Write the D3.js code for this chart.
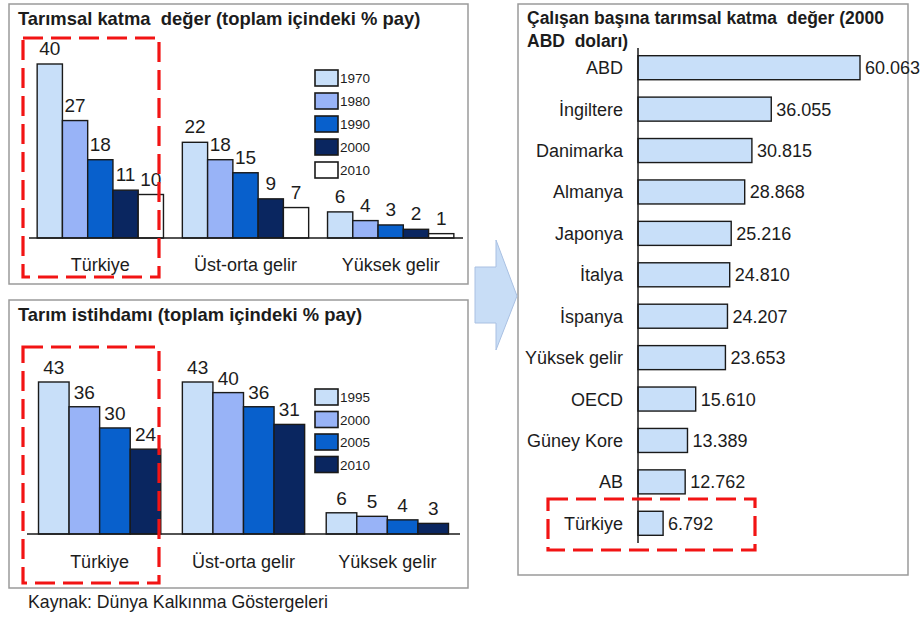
<!DOCTYPE html>
<html>
<head>
<meta charset="utf-8">
<script src="https://cdn.jsdelivr.net/npm/d3@7"></script>
<style>
  body { margin: 0; background: #fff; }
  svg { font-family: "Liberation Sans", Arial, sans-serif; }
  text { fill: #1c1c1c; white-space: pre; }
</style>
</head>
<body>
<svg id="chart" width="923" height="617"></svg>
<script>
// data
const groups = ["Türkiye", "Üst-orta gelir", "Yüksek gelir"];
const years1 = ["1970", "1980", "1990", "2000", "2010"];
const valueAdded = [[40, 27, 18, 11, 10], [22, 18, 15, 9, 7], [6, 4, 3, 2, 1]];
const years2 = ["1995", "2000", "2005", "2010"];
const employment = [[43, 36, 30, 24], [43, 40, 36, 31], [6, 5, 4, 3]];
const countries = ["ABD", "İngiltere", "Danimarka", "Almanya", "Japonya", "İtalya",
  "İspanya", "Yüksek gelir", "OECD", "Güney Kore", "AB", "Türkiye"];
const perWorker = [60063, 36055, 30815, 28868, 25216, 24810, 24207, 23653, 15610, 13389, 12762, 6792];

const colors1 = ["#c8dff9", "#98b3f7", "#0860cc", "#0a2660", "#ffffff"];
const colors2 = ["#c8dff9", "#98b3f7", "#0860cc", "#0a2660"];

const svg = d3.select("#chart");
const trFormat = d3.formatLocale({ decimal: ",", thousands: ".", grouping: [3], currency: ["", ""] }).format(",d");

// panel frames
const frame = (x, y, w, h) => svg.append("rect")
  .attr("x", x).attr("y", y).attr("width", w).attr("height", h)
  .attr("fill", "#fff").attr("stroke", "#9a9a9a").attr("stroke-width", 1.5);
frame(9, 4, 459, 280);
frame(9, 300, 459, 288);
frame(518, 4, 390, 571);

// arrow between panels
svg.append("path")
  .attr("d", "M475,267 L496,267 L496,240 L517,296 L496,350 L496,323 L475,323 Z")
  .attr("fill", "#c8ddf6").attr("stroke", "#a9c0e2").attr("stroke-width", 1);

const groupedBars = (cfg) => {
  const g = svg.append("g");
  const x0 = d3.scaleBand().domain(groups).range(cfg.xRange)
    .paddingInner(cfg.padIn).paddingOuter(cfg.padOut);
  const x1 = d3.scaleBand().domain(cfg.years).range([0, x0.bandwidth()]);
  const y = d3.scaleLinear().domain([0, cfg.max]).range([cfg.base, cfg.top]);

  g.append("text").attr("x", 18).attr("y", cfg.titleY)
    .style("font-size", "18.4px").style("font-weight", "bold").text(cfg.title);

  const grp = g.selectAll("g.grp").data(cfg.values).join("g")
    .attr("class", "grp")
    .attr("transform", (d, i) => `translate(${x0(groups[i])},0)`);

  grp.selectAll("rect").data(d => d).join("rect")
    .attr("x", (d, i) => x1(cfg.years[i]))
    .attr("y", d => y(d))
    .attr("width", x1.bandwidth())
    .attr("height", d => cfg.base - y(d))
    .attr("fill", (d, i) => cfg.colors[i])
    .attr("stroke", "#1a1a1a").attr("stroke-width", 1.4);

  grp.selectAll("text").data(d => d).join("text")
    .attr("x", (d, i) => x1(cfg.years[i]) + x1.bandwidth() / 2)
    .attr("y", d => y(d) - cfg.labelGap)
    .attr("text-anchor", "middle")
    .style("font-size", "19px")
    .text(d => d);

  g.append("line")
    .attr("x1", cfg.axis[0]).attr("x2", cfg.axis[1])
    .attr("y1", cfg.base).attr("y2", cfg.base)
    .attr("stroke", "#1a1a1a").attr("stroke-width", 1.5);

  g.selectAll("text.cat").data(groups).join("text")
    .attr("class", "cat")
    .attr("x", d => x0(d) + x0.bandwidth() / 2)
    .attr("y", cfg.catY)
    .attr("text-anchor", "middle")
    .style("font-size", "18px")
    .text(d => d);

  const leg = g.selectAll("g.leg").data(cfg.years).join("g")
    .attr("class", "leg")
    .attr("transform", (d, i) => `translate(315,${cfg.legY + i * cfg.legStep})`);
  leg.append("rect").attr("x", 0).attr("y", -8).attr("width", 23).attr("height", 16)
    .attr("fill", (d, i) => cfg.colors[i])
    .attr("stroke", "#1a1a1a").attr("stroke-width", 1.6);
  leg.append("text").attr("x", 25).attr("y", 5)
    .style("font-size", "13.5px").text(d => d);
};

groupedBars({
  title: "Tarımsal katma  değer (toplam içindeki % pay)", titleY: 25,
  years: years1, values: valueAdded, colors: colors1,
  xRange: [27, 464], padIn: 0.13, padOut: 0.07,
  max: 40, base: 238, top: 64, labelGap: 9,
  axis: [29, 463], catY: 271, legY: 78, legStep: 23
});

groupedBars({
  title: "Tarım istihdamı (toplam içindeki % pay)", titleY: 321,
  years: years2, values: employment, colors: colors2,
  xRange: [27, 460], padIn: 0.15, padOut: 0.08,
  max: 43, base: 534, top: 382, labelGap: 8,
  axis: [27, 460], catY: 568, legY: 397, legStep: 22.5
});

// right panel: horizontal bars
const y3 = d3.scaleBand().domain(countries).range([47, 544]).paddingInner(0.42).paddingOuter(0.21);
const x3 = d3.scaleLinear().domain([0, 60063]).range([638, 860]);
const p3 = svg.append("g");

p3.append("text").attr("x", 527).attr("y", 24)
  .style("font-size", "17.5px").style("font-weight", "bold")
  .text("Çalışan başına tarımsal katma  değer (2000");
p3.append("text").attr("x", 527).attr("y", 47)
  .style("font-size", "17.5px").style("font-weight", "bold")
  .text("ABD  doları)");

p3.selectAll("rect.bar").data(perWorker).join("rect")
  .attr("class", "bar")
  .attr("x", x3(0))
  .attr("y", (d, i) => y3(countries[i]))
  .attr("width", d => x3(d) - x3(0))
  .attr("height", y3.bandwidth())
  .attr("fill", "#c8dff9").attr("stroke", "#1a1a1a").attr("stroke-width", 1.4);

p3.selectAll("text.val").data(perWorker).join("text")
  .attr("class", "val")
  .attr("x", d => x3(d) + 5)
  .attr("y", (d, i) => y3(countries[i]) + y3.bandwidth() / 2)
  .attr("dy", "0.36em")
  .style("font-size", "18px")
  .text(d => trFormat(d));

p3.selectAll("text.name").data(countries).join("text")
  .attr("class", "name")
  .attr("x", 623)
  .attr("y", d => y3(d) + y3.bandwidth() / 2)
  .attr("dy", "0.36em")
  .attr("text-anchor", "end")
  .style("font-size", "18px")
  .text(d => d);

p3.append("line")
  .attr("x1", 638).attr("x2", 638).attr("y1", 48).attr("y2", 543)
  .attr("stroke", "#1a1a1a").attr("stroke-width", 1.5);

// red dashed highlight boxes around Türkiye
const highlight = (x, y, w, h) => svg.append("rect")
  .attr("x", x).attr("y", y).attr("width", w).attr("height", h)
  .attr("fill", "none").attr("stroke", "#f21414").attr("stroke-width", 3.2)
  .attr("stroke-dasharray", "20,8");
highlight(23, 38, 136, 239);
highlight(23, 347, 136, 236);
highlight(548, 499, 207, 51);

svg.append("text").attr("x", 28).attr("y", 608)
  .style("font-size", "17.7px")
  .text("Kaynak: Dünya Kalkınma Göstergeleri");
</script>
</body>
</html>
